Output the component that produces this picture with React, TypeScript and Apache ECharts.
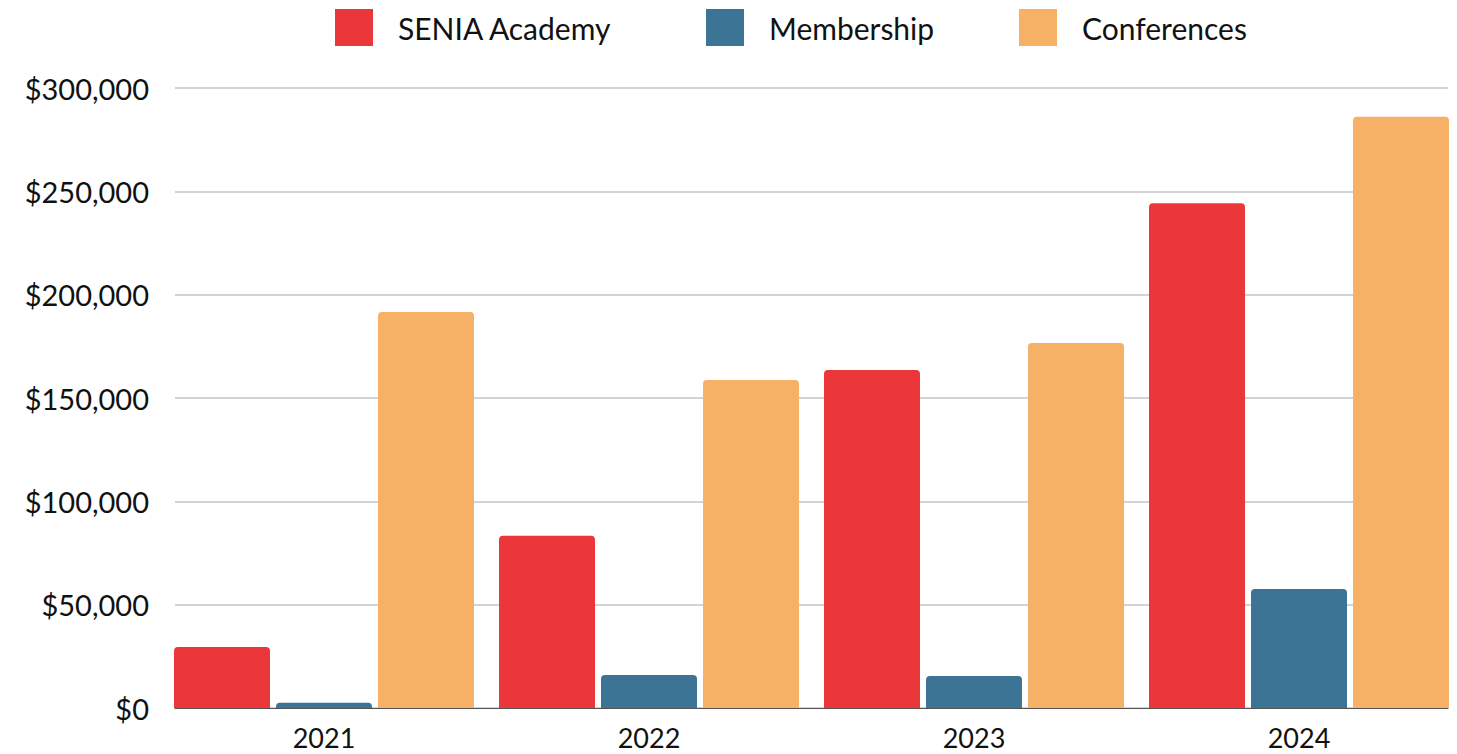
import React, { useEffect, useRef } from "react";
import * as echarts from "echarts";

const years = ["2021", "2022", "2023", "2024"];
const seniaAcademy = [29500, 83400, 163500, 244200];
const membership = [2600, 16000, 15500, 57600];
const conferences = [191600, 158700, 176600, 286100];
const seriesNames = ["SENIA Academy", "Membership", "Conferences"];
const colors = ["#EB373A", "#3B7494", "#F6B167"];
const legendLefts = [327, 698, 1011];

const FONT = "Lato, 'Open Sans', sans-serif";

export default function App() {
  const ref = useRef<HTMLDivElement>(null);
  useEffect(() => {
    document.documentElement.style.overflow = "hidden";
    if (!ref.current) return;
    const chart = echarts.init(ref.current, null, { renderer: "svg" });
    const valueAxisBase = { type: "value", min: 0, max: 300000, interval: 50000 };
    chart.setOption({
      animation: false,
      textStyle: { fontFamily: FONT },
      legend: seriesNames.map((name, i) => ({
        top: 1,
        left: legendLefts[i],
        padding: 0,
        itemWidth: 38,
        itemHeight: 37,
        icon: "rect",
        data: [name],
        textStyle: { fontSize: 30, color: "#111", fontFamily: FONT, padding: [0, 0, 0, 20] },
      })),
      grid: [
        { left: 153.5, width: 1300, top: 80, bottom: 46, outerBoundsMode: "none", containLabel: false },
        { left: 167, right: 1, top: 80, bottom: 46, outerBoundsMode: "none", containLabel: false },
      ],
      xAxis: [
        {
          type: "category",
          gridIndex: 0,
          data: years,
          axisLine: { show: false },
          axisTick: { show: false },
          axisLabel: { fontSize: 27, color: "#111", margin: 16, fontFamily: FONT },
        },
        {
          type: "category",
          gridIndex: 1,
          data: years,
          axisLine: { show: true, lineStyle: { color: "#555", width: 1 } },
          axisTick: { show: false },
          axisLabel: { show: false },
          z: 5,
        },
      ],
      yAxis: [
        {
          ...valueAxisBase,
          gridIndex: 0,
          show: false,
          splitLine: { show: false },
        },
        {
          ...valueAxisBase,
          gridIndex: 1,
          axisLine: { show: false },
          axisTick: { show: false },
          splitLine: { show: true, lineStyle: { color: "#c4c4c4", width: 1.5 } },
          axisLabel: {
            fontSize: 29,
            color: "#111",
            margin: 26,
            fontFamily: FONT,
            formatter: (v: number) => "$" + v.toLocaleString("en-US"),
          },
        },
      ],
      series: [seniaAcademy, membership, conferences].map((d, i) => ({
        name: seriesNames[i],
        type: "bar",
        xAxisIndex: 0,
        yAxisIndex: 0,
        data: d,
        barWidth: 96,
        barGap: "6.25%",
        itemStyle: { color: colors[i], borderRadius: [4, 4, 0, 0] },
        z: 3,
      })),
    });
    return () => chart.dispose();
  }, []);
  return <div ref={ref} style={{ width: 1441, height: 746 }} />;
}
